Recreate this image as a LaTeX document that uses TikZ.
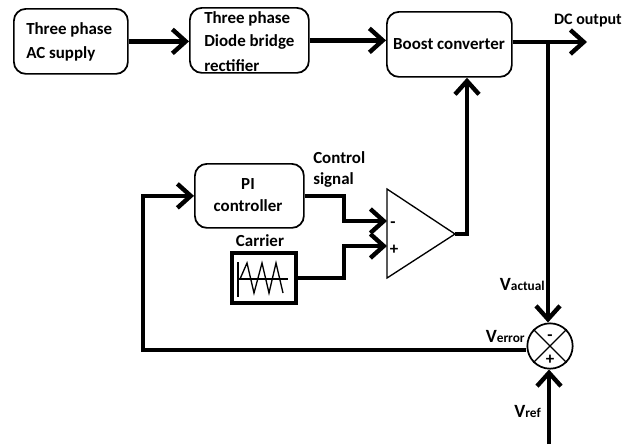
\documentclass[tikz,border=0pt]{standalone}
\usepackage{fontspec}
\setmainfont{Carlito}
\usetikzlibrary{arrows.meta}
\tikzset{
  block/.style={draw,line width=1.3pt,rounded corners=9pt,anchor=north west,inner sep=0pt},
  lbl/.style={font=\bfseries\fontsize{12.7}{13}\selectfont,inner sep=0pt},
  wire/.style={line width=3.3pt},
  feed/.style={wire,-{Straight Barb[length=10pt,width=18pt,line width=3.3pt]}}
}
\newcommand{\vlabel}[2]{{\fontsize{14}{14}\selectfont #1}{\fontsize{10}{10}\selectfont #2}}

\begin{document}
\begin{tikzpicture}[x=0.75pt,y=-0.75pt]
    \useasboundingbox (0,0) rectangle (623,444);
    % top row
    \node[block,minimum width=85.5pt,minimum height=48.75pt] (supply) at (13,8) {};
    \node[block,minimum width=89.25pt,minimum height=48.75pt] (rectifier) at (189,7) {};
    \node[block,minimum width=93.75pt,minimum height=48.75pt] (boost) at (386,11) {};
    \node[lbl,align=left,anchor=west] (supplytext) at (26,42) {Three phase\\[5pt]AC supply};
    \node[lbl,anchor=west] (recta) at (204,19) {Three phase};
    \node[lbl,anchor=west] (rectb) at (204,42) {Diode bridge};
    \node[lbl,anchor=west] (rectc) at (204,66) {rectifier};
    \node[lbl] (boosttext) at (449,44) {Boost converter};
    \node[lbl,anchor=east,font=\bfseries\fontsize{12}{13}\selectfont] (dctext) at (622,21) {DC output};

    % middle row
    \node[block,minimum width=81.75pt,minimum height=48pt] (pi) at (194,163) {};
    \node[lbl,align=center] (pitext) at (248,195) {PI\\[4pt]controller};
    \node[lbl,anchor=west] (ctrla) at (313,158) {Control};
    \node[lbl,anchor=west] (ctrlb) at (313,180) {signal};
    \node[lbl] (carriertext) at (260,241) {Carrier};
    \node[draw,line width=3pt,minimum width=48pt,minimum height=38pt,inner sep=0pt] (carrier) at (264,278) {};

    % wave in carrier box
    \draw[line width=1pt] (238,262) -- (238,297);
    \draw[line width=1pt] (238,279) -- (288,279);
    \draw[line width=1pt] (240,279) -- (247,263) -- (254,293) -- (262,263) -- (269,293) -- (276,263) -- (283,293);

    % comparator
    \coordinate (cmptop) at (387,189);
    \coordinate (cmpbot) at (387,278);
    \coordinate (cmptip) at (455,234);
    \coordinate (cmpminus) at (387,221);
    \coordinate (cmpplus) at (387,246);
    \coordinate (cmpturn) at (467,234);
    \coordinate (cmpbend) at (344,234);
    \draw[line width=1pt,line join=miter] (cmptop) -- (cmptip) -- (cmpbot) -- cycle;
    \node[lbl] (minustext) at (393,225) {-};
    \node[lbl] (plustext) at (394,250) {+};

    % summing point
    \node[draw,circle,line width=1.3pt,minimum size=34pt,inner sep=0pt] (sum) at (550,346) {};
    \draw[line width=1pt] (sum.north west) -- (sum.south east);
    \draw[line width=1pt] (sum.north east) -- (sum.south west);
    \node[lbl] (summinus) at (550,338) {-};
    \node[lbl] (sumplus) at (550,360) {+};
    \node[lbl,anchor=east] (vactual) at (545,284) {\vlabel{V}{actual}};
    \node[lbl,anchor=east] (verror) at (525,336) {\vlabel{V}{error}};
    \node[lbl,anchor=east] (vref) at (541,411) {\vlabel{V}{ref}};

    % connectors
    \coordinate (dcend) at (587,42);
    \coordinate (dcsplit) at (548,42);
    \coordinate (refstart) at (549,444);
    \coordinate (fbcorner) at (143,350);
    \draw[feed] (supply.east) -- (rectifier.west |- supply.east);
    \draw[feed] (rectifier.east) -- (boost.west |- rectifier.east);
    \draw[feed] (boost.east |- dcend) -- (dcend);
    \draw[feed] (dcsplit) -- (sum.north -| dcsplit);
    \draw[feed] (refstart) -- (sum.south -| refstart);
    \draw[feed] (sum.west |- fbcorner) -- (fbcorner) |- (pi.west);
    \draw[feed] (pi.east) -- (pi.east -| cmpbend) |- (cmpminus);
    \draw[feed] (carrier.east) -- (carrier.east -| cmpbend) |- (cmpplus);
    \draw[feed] (cmptip) -- (cmpturn) -- (boost.south -| cmpturn);
\end{tikzpicture}
\end{document}
